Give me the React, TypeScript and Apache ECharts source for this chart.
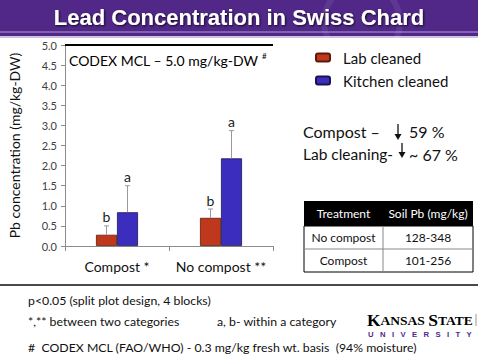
import React, { useEffect, useRef } from "react";
import * as echarts from "echarts";

const categories = ["Compost *", "No compost **"];
const labCleaned = [0.28, 0.7];
const kitchenCleaned = [0.84, 2.18];
const labUpper = [0.5, 0.92];
const kitchenUpper = [1.5, 2.87];
const labLetters = ["b", "b"];
const kitchenLetters = ["a", "a"];
const yTicks = { min: 0, max: 5, interval: 0.5 };
const mclValue = 5.0;
const tableHeader = ["Treatment", "Soil Pb (mg/kg)"];
const tableRows = [
  ["No compost", "128-348"],
  ["Compost", "101-256"],
];

const FONT = "Lato, 'Open Sans', sans-serif";
const RED = "#C0381C";
const BLUE = "#3B2DBE";
const BAR_W = 21;

function errorSeries(name: string, means: number[], uppers: number[], letters: string[], sign: number) {
  return {
    type: "custom",
    name: name + " err",
    z: 5,
    silent: true,
    data: means.map((m, i) => [i, m, uppers[i]]),
    renderItem: (params: any, api: any) => {
      const base = api.coord([api.value(0), api.value(1)]);
      const top = api.coord([api.value(0), api.value(2)]);
      const x = base[0] + (sign * BAR_W) / 2;
      return {
        type: "group",
        children: [
          { type: "line", shape: { x1: x, y1: base[1], x2: x, y2: top[1] }, style: { stroke: "#9a9a9a", lineWidth: 1 } },
          { type: "line", shape: { x1: x - 2.5, y1: top[1], x2: x + 2.5, y2: top[1] }, style: { stroke: "#9a9a9a", lineWidth: 1 } },
          {
            type: "text",
            style: {
              text: letters[params.dataIndex],
              x: x,
              y: top[1] - 2,
              textAlign: "center",
              textVerticalAlign: "bottom",
              font: "14px " + FONT,
              fill: "#222",
            },
          },
        ],
      };
    },
  };
}

function downArrow(x: number, y1: number, y2: number) {
  return [
    { type: "line", shape: { x1: x, y1: y1, x2: x, y2: y2 - 2 }, style: { stroke: "#111", lineWidth: 1.3 } },
    { type: "polygon", shape: { points: [[x - 3.5, y2 - 6], [x + 3.5, y2 - 6], [x, y2]] }, style: { fill: "#111" } },
  ];
}

export default function App() {
  const ref = useRef<HTMLDivElement>(null);
  useEffect(() => {
    document.body.style.margin = "0";
    const chart = echarts.init(ref.current!, null, { renderer: "svg" });
    const tx = 304, ty = 201, tw = 169, colX = 383, hH = 25, rH = 23;
    const tableGraphics: any[] = [
      { type: "rect", shape: { x: tx, y: ty, width: tw, height: hH }, style: { fill: "#000" } },
      { type: "rect", shape: { x: tx, y: ty + hH, width: tw, height: rH * 2 }, style: { fill: "#fff", stroke: "#000", lineWidth: 1 } },
      { type: "line", shape: { x1: tx, y1: ty + hH + rH, x2: tx + tw, y2: ty + hH + rH }, style: { stroke: "#888", lineWidth: 1 } },
      { type: "line", shape: { x1: colX, y1: ty + hH, x2: colX, y2: ty + hH + rH * 2 }, style: { stroke: "#888", lineWidth: 1 } },
      { type: "text", style: { text: tableHeader[0], x: (tx + colX) / 2, y: ty + hH / 2, textAlign: "center", textVerticalAlign: "middle", font: "12px " + FONT, fill: "#fff" } },
      { type: "text", style: { text: tableHeader[1], x: (colX + tx + tw) / 2, y: ty + hH / 2, textAlign: "center", textVerticalAlign: "middle", font: "12px " + FONT, fill: "#fff" } },
    ];
    tableRows.forEach((r, i) => {
      const cy = ty + hH + rH * i + rH / 2;
      tableGraphics.push({ type: "text", style: { text: r[0], x: (tx + colX) / 2, y: cy, textAlign: "center", textVerticalAlign: "middle", font: "12px " + FONT, fill: "#111" } });
      tableGraphics.push({ type: "text", style: { text: r[1], x: (colX + tx + tw) / 2, y: cy, textAlign: "center", textVerticalAlign: "middle", font: "12px " + FONT, fill: "#111" } });
    });

    chart.setOption({
      animation: false,
      backgroundColor: "#fff",
      grid: { left: 65, right: 205, top: 45, bottom: 112, containLabel: false },
      legend: {
        left: 310,
        top: 45,
        orient: "vertical",
        itemWidth: 14,
        itemHeight: 8,
        itemGap: 8,
        data: ["Lab cleaned", "Kitchen cleaned"],
        textStyle: { fontSize: 15, fontFamily: FONT, color: "#111", padding: [0, 0, 0, 8] },
      },
      xAxis: {
        type: "category",
        data: categories,
        axisLine: { lineStyle: { color: "#8c8c8c" } },
        axisTick: { show: true, length: 5, alignWithLabel: false, lineStyle: { color: "#8c8c8c" } },
        axisLabel: { fontSize: 14, fontFamily: FONT, color: "#111", margin: 13, interval: 0 },
      },
      yAxis: {
        type: "value",
        min: yTicks.min,
        max: yTicks.max,
        interval: yTicks.interval,
        name: "Pb concentration (mg/kg-DW)",
        nameLocation: "middle",
        nameGap: 44,
        nameTextStyle: { fontSize: 14, fontFamily: FONT, color: "#111" },
        axisLine: { show: true, lineStyle: { color: "#8c8c8c" } },
        axisTick: { show: true, length: 4, lineStyle: { color: "#8c8c8c" } },
        splitLine: { show: false },
        axisLabel: { fontSize: 11, fontFamily: FONT, color: "#404040", margin: 8, formatter: (v: number) => v.toFixed(1) },
      },
      series: [
        {
          type: "bar",
          name: "Lab cleaned",
          data: labCleaned,
          barWidth: BAR_W,
          barGap: "0%",
          itemStyle: { color: RED, borderColor: "#5a1a0c", borderWidth: 0.8 },
          markLine: {
            silent: true,
            symbol: "none",
            label: { show: false },
            lineStyle: { color: "#000", width: 2, type: "solid" },
            data: [{ yAxis: mclValue }],
          },
        },
        {
          type: "bar",
          name: "Kitchen cleaned",
          data: kitchenCleaned,
          barWidth: BAR_W,
          barGap: "0%",
          itemStyle: { color: BLUE, borderColor: "#1a1450", borderWidth: 0.8 },
        },
        errorSeries("Lab cleaned", labCleaned, labUpper, labLetters, -1),
        errorSeries("Kitchen cleaned", kitchenCleaned, kitchenUpper, kitchenLetters, 1),
      ],
      graphic: [
        { type: "rect", shape: { x: 0, y: 0, width: 478, height: 37 }, style: { fill: "#512888" } },
        { type: "rect", shape: { x: 0, y: 31, width: 478, height: 2 }, style: { fill: "#7f62b2" } },
        { type: "rect", shape: { x: 0, y: 36, width: 478, height: 2 }, style: { fill: "#cfc3e3" } },
        { type: "circle", shape: { cx: 362, cy: 22, r: 38 }, style: { fill: "none", stroke: "rgba(255,255,255,0.07)", lineWidth: 6 } },
        {
          type: "text",
          style: {
            text: "Lead Concentration in Swiss Chard",
            x: 239,
            y: 17,
            textAlign: "center",
            textVerticalAlign: "middle",
            font: "bold 22px 'Liberation Sans', Arial, sans-serif",
            fill: "#fff",
            textShadowColor: "rgba(0,0,0,0.8)",
            textShadowBlur: 2,
            textShadowOffsetX: 1,
            textShadowOffsetY: 1,
          },
        },
        {
          type: "text",
          style: {
            text: "{m|CODEX MCL – 5.0 mg/kg-DW }{s|#}",
            x: 69,
            y: 60,
            textVerticalAlign: "middle",
            rich: {
              m: { fontSize: 14, fontFamily: FONT, color: "#111" },
              s: { fontSize: 8, fontFamily: FONT, color: "#111", verticalAlign: "top", padding: [0, 0, 8, 0] },
            },
          },
        },
        { type: "text", style: { text: "Compost –", x: 303, y: 131, textVerticalAlign: "middle", font: "16px " + FONT, fill: "#111" } },
        ...downArrow(398, 124, 140),
        { type: "text", style: { text: "59 %", x: 409, y: 131, textVerticalAlign: "middle", font: "16px " + FONT, fill: "#111" } },
        { type: "text", style: { text: "Lab cleaning-", x: 303, y: 154, textVerticalAlign: "middle", font: "15.5px " + FONT, fill: "#111" } },
        ...downArrow(402, 143, 158),
        { type: "text", style: { text: "~ 67 %", x: 409, y: 154, textVerticalAlign: "middle", font: "16px " + FONT, fill: "#111" } },
        ...tableGraphics,
        { type: "line", shape: { x1: 0, y1: 285, x2: 478, y2: 285 }, style: { stroke: "#4a4a4a", lineWidth: 2 } },
        { type: "text", style: { text: "p<0.05 (split plot design, 4 blocks)", x: 28, y: 300, textVerticalAlign: "middle", font: "12.3px " + FONT, fill: "#111" } },
        { type: "text", style: { text: "*,** between two categories", x: 28, y: 321, textVerticalAlign: "middle", font: "12.3px " + FONT, fill: "#111" } },
        { type: "text", style: { text: "a, b- within a category", x: 217, y: 321, textVerticalAlign: "middle", font: "12.3px " + FONT, fill: "#111" } },
        { type: "text", style: { text: "#  CODEX MCL (FAO/WHO) - 0.3 mg/kg fresh wt. basis  (94% moisture)", x: 28, y: 347, textVerticalAlign: "middle", font: "12.3px " + FONT, fill: "#111" } },
        {
          type: "text",
          style: {
            text: "{b|K}{s|ANSAS} {b|S}{s|TATE}",
            x: 367,
            y: 320,
            textVerticalAlign: "middle",
            rich: {
              b: { fontSize: 17.5, fontFamily: "'Liberation Serif', serif", fontWeight: "bold", color: "#512888" },
              s: { fontSize: 13.5, fontFamily: "'Liberation Serif', serif", fontWeight: "bold", color: "#512888" },
            },
          },
        },
        { type: "text", style: { text: "U   N   I   V   E   R   S   I   T   Y", x: 368, y: 334, textVerticalAlign: "middle", font: "bold 7.7px 'Liberation Sans', sans-serif", fill: "#512888" } },
        { type: "line", shape: { x1: 476, y1: 314, x2: 476, y2: 326 }, style: { stroke: "#999", lineWidth: 1 } },
      ],
    });
    return () => chart.dispose();
  }, []);
  return <div ref={ref} style={{ position: "fixed", left: 0, top: 0, width: 478, height: 358 }} />;
}
